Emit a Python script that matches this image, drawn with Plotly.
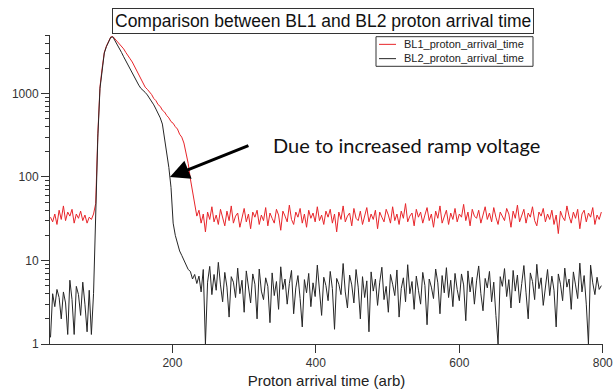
import plotly.graph_objects as go

# ---------------- data ----------------
x_start = 30
x_step = 3

bl1_pre = [33, 29, 36, 27, 40, 31, 45, 30, 38, 34, 41, 28, 36, 32, 39, 30, 35, 28, 33, 31, 36]
bl2_pre = [1.2, 4.0, 2.8, 4.5, 3.6, 2.0, 4.2, 3.1, 1.3, 5.8, 3.4, 1.3, 4.9, 3.9, 2.2, 5.5, 3.0, 1.4, 4.4, 1.3, 4.0]

# x = 93 .. 234 (rise, peak and decay)
bl1_peak = [48, 330, 1200, 2000, 3100, 3700, 4200, 4750, 4800, 4500, 4150, 3920, 3600, 3420,
            3100, 2880, 2600, 2380, 2120, 1910, 1720, 1490, 1350, 1190, 1120, 1040, 970, 870,
            820, 735, 700, 630, 600, 545, 510, 460, 440, 400, 375, 325, 300, 255, 200, 145,
            95, 66, 50, 34]
bl2_peak = [42, 300, 1150, 1950, 3050, 3650, 4150, 4700, 4750, 4300, 3850, 3450, 3100, 2750,
            2450, 2200, 1950, 1750, 1560, 1400, 1260, 1150, 1100, 1030, 960, 880, 800, 730,
            650, 580, 510, 430, 290, 190, 130, 75, 28, 20, 16, 13, 11.5, 10, 9, 7.8, 7.4,
            6.0, 6.8, 5.3]

# x = 237 .. 798 (background)
bl1_tail = [40, 28, 36, 22, 38, 31, 44, 29, 35, 27,
            41, 33, 26, 39, 30, 45, 28, 34, 37, 25,
            32, 42, 29, 36, 24, 38, 33, 40, 27, 35,
            30, 43, 26, 37, 32, 28, 41, 35, 23, 39,
            34, 29, 46, 31, 27, 38, 33, 42, 28, 36,
            25, 40, 32, 37, 29, 44, 30, 35, 27, 39,
            33, 41, 28, 36, 22, 38, 31, 45, 29, 34,
            37, 26, 42, 32, 30, 39, 27, 35, 43, 29,
            36, 31, 40, 24, 38, 33, 29, 41, 35, 28,
            44, 30, 36, 27, 39, 32, 48, 29, 34, 37,
            26, 41, 33, 38, 28, 35, 43, 30, 36, 25,
            39, 32, 45, 28, 34, 40, 27, 37, 31, 42,
            29, 36, 33, 47, 30, 38, 26, 41, 34, 32,
            40, 28, 35, 44, 31, 37, 29, 43, 33, 27,
            38, 34, 30, 42, 36, 25, 39, 32, 46, 29,
            35, 41, 28, 37, 33, 44, 30, 26, 38, 34,
            42, 29, 36, 31, 40, 27, 35, 21, 39, 33,
            30, 45, 34, 28, 38, 32, 41, 24, 36, 40,
            29, 37, 33, 43, 27, 35, 31, 38]
bl2_tail = [6.5, 4.2, 7.8, 1, 5.5, 8.5, 3.9, 6.8, 4.4, 9.5,
            5.1, 3.2, 7.2, 4.8, 2.1, 6.4, 5.5, 3.6, 8.1, 4.0,
            5.8, 2.4, 7.5, 4.6, 3.1, 6.9, 5.2, 2.0, 7.9, 4.3,
            3.4, 6.2, 4.9, 1.8, 7.1, 3.8, 5.6, 2.6, 8.4, 4.5,
            6.0, 3.0, 5.3, 7.6, 2.3, 4.7, 6.6, 3.5, 1.6, 5.9,
            4.1, 7.0, 2.8, 5.4, 3.7, 8.8, 4.4, 2.2, 6.3, 5.0,
            3.3, 7.4, 4.6, 1.5, 6.1, 5.2, 3.9, 9.2, 4.2, 2.7,
            6.7, 5.1, 3.1, 7.8, 4.8, 2.0, 6.4, 3.6, 5.7, 1.4,
            7.3, 4.3, 6.0, 2.9, 5.5, 8.3, 3.4, 4.9, 2.4, 6.8,
            5.2, 3.8, 7.7, 2.1, 4.6, 6.2, 3.2, 8.9, 4.0, 5.6,
            2.6, 6.5, 4.4, 3.0, 7.2, 5.0, 1.7, 6.0, 4.8, 3.5,
            7.9, 5.4, 2.3, 6.6, 4.1, 8.2, 3.6, 5.8, 2.8, 7.0,
            4.5, 3.3, 6.9, 5.1, 1.9, 7.5, 4.2, 6.3, 3.0, 5.7,
            8.6, 4.0, 2.5, 6.1, 4.7, 7.4, 3.2, 5.5, 2.2, 1,
            6.4, 4.9, 8.0, 3.7, 5.9, 2.7, 7.6, 4.3, 6.7, 3.1,
            5.3, 8.7, 4.1, 2.0, 7.1, 5.6, 3.4, 9.0, 4.6, 6.2,
            2.9, 5.0, 7.8, 3.8, 6.5, 4.4, 1.6, 6.9, 5.2, 3.3,
            8.1, 4.8, 6.0, 2.6, 7.3, 5.1, 3.5, 9.3, 4.2, 6.6,
            3.0, 1, 8.8, 5.4, 3.9, 6.3, 4.5, 5.0]

bl1 = bl1_pre + bl1_peak + bl1_tail
bl2 = bl2_pre + bl2_peak + bl2_tail
x_vals = [x_start + x_step * i for i in range(len(bl1))]

x_tick_vals = [200, 400, 600, 800]
y_tick_vals = [1, 10, 100, 1000]
y_tick_text = ["1", "10", "100", "1000"]

title_text = "Comparison between BL1 and BL2 proton arrival time"
note_text = "Due to increased ramp voltage"
names = ["BL1_proton_arrival_time", "BL2_proton_arrival_time"]
colors = ["#e8252a", "#262626"]

# ---------------- figure ----------------
FONT = "Liberation Sans, Arial, sans-serif"
W, H = 613, 389
ML, MR, MT, MB = 50, 10, 35, 45
PW, PH = W - ML - MR, H - MT - MB


def px_x(px):
    return (px - ML) / PW


def px_y(py):
    return (H - MB - py) / PH


fig = go.Figure()
for name, yv, col in zip(names, [bl1, bl2], colors):
    fig.add_trace(go.Scatter(x=x_vals, y=yv, mode="lines", name=name,
                             line=dict(color=col, width=1), showlegend=False))

fig.update_layout(
    width=W, height=H,
    margin=dict(l=ML, r=MR, t=MT, b=MB),
    paper_bgcolor="white", plot_bgcolor="white",
    font=dict(family=FONT, size=12, color="#333333"),
    showlegend=False,
    xaxis=dict(range=[29.3, 800.3], tickvals=x_tick_vals, ticks="outside", ticklen=8,
               tickcolor="#333333", showline=True, linecolor="#333333", linewidth=1,
               showgrid=False, zeroline=False, automargin=False,
               ticklabeloverflow="allow",
               title=dict(text="Proton arrival time (arb)",
                          font=dict(family=FONT, size=15, color="#222222"), standoff=6)),
    yaxis=dict(type="log", range=[0, 3.70], tickvals=y_tick_vals, ticktext=y_tick_text,
               ticks="outside", ticklen=8, tickcolor="#333333",
               showline=True, linecolor="#333333", linewidth=1,
               showgrid=False, zeroline=False, automargin=False,
               minor=dict(ticks="outside", ticklen=4, tickcolor="#333333",
                          dtick="D1", showgrid=False)),
)

# title box
fig.add_annotation(xref="paper", yref="paper", x=px_x(323), y=px_y(21),
                   xanchor="center", yanchor="middle", showarrow=False,
                   text=title_text, font=dict(family=FONT, size=17.5, color="#111111"),
                   bordercolor="#333333", borderwidth=1, borderpad=2, bgcolor="white")

# legend box (drawn)
LEG_FS = 11
line_gap = LEG_FS * 1.3
leg_c = 51.5
fig.add_shape(type="rect", xref="paper", yref="paper",
              x0=px_x(376), x1=px_x(533), y0=px_y(leg_c + line_gap + 0.5),
              y1=px_y(leg_c - line_gap - 0.5),
              line=dict(color="#333333", width=1), fillcolor="white", layer="above")
for i, col in enumerate(colors):
    yy = px_y(leg_c + (i - 0.5) * line_gap)
    fig.add_shape(type="line", xref="paper", yref="paper",
                  x0=px_x(379), x1=px_x(396), y0=yy, y1=yy,
                  line=dict(color=col, width=1), layer="above")
fig.add_annotation(xref="paper", yref="paper", x=px_x(402), y=px_y(leg_c),
                   xanchor="left", yanchor="middle", align="left", showarrow=False,
                   text="<br>".join(names),
                   font=dict(family=FONT, size=LEG_FS, color="#222222"))

# arrow + note
fig.add_annotation(x=196.5, y=2.0, xref="x", yref="y", ax=80, ay=-32,
                   text="", showarrow=True, arrowhead=2, arrowsize=1.3,
                   arrowwidth=3, arrowcolor="black")
fig.add_annotation(x=px_x(271), y=px_y(145), xref="paper", yref="paper",
                   xanchor="left", yanchor="middle",
                   showarrow=False, text=note_text,
                   font=dict(family="Lato, Open Sans, sans-serif", size=20, color="#111111"))

fig.write_html("out.html")
